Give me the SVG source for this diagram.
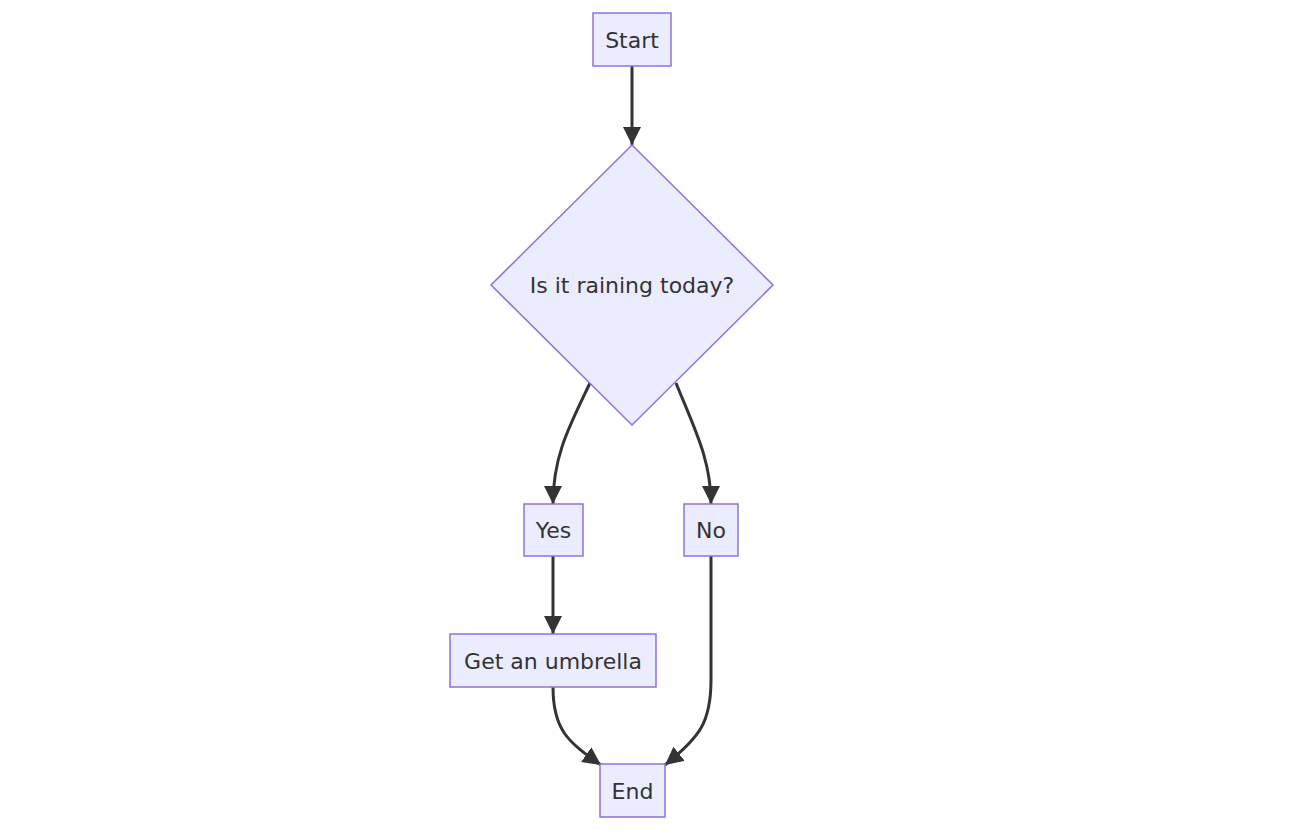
<svg xmlns="http://www.w3.org/2000/svg" width="1291" height="839" viewBox="0 0 1291 839">
<style>
.node rect, .node polygon { fill: #ECECFF; stroke: #9370DB; stroke-width: 1.5; }
.node text { font-family: "DejaVu Sans", "Liberation Sans", sans-serif; font-size: 22px; fill: #333333; text-anchor: middle; dominant-baseline: central; }
.edge { fill: none; stroke: #333333; stroke-width: 3; marker-end: url(#arrow); }
</style>
<defs>
<marker id="arrow" viewBox="0 0 10 10" refX="10" refY="5" markerWidth="18" markerHeight="18" markerUnits="userSpaceOnUse" orient="auto">
<path d="M0,0 L10,5 L0,10 z" fill="#333333"/>
</marker>
</defs>
<rect width="1291" height="839" fill="#ffffff"/>
<g id="connectors">
<path class="edge" d="M632,66 L632,145"/>
<path class="edge" d="M590,383 C570,425 553,455 553,504"/>
<path class="edge" d="M676,383 C695,430 711,460 711,504"/>
<path class="edge" d="M553,556 L553,634"/>
<path class="edge" d="M553,687 C553,730 568,742 601,765"/>
<path class="edge" d="M711,556 L711,680 C711,722 700,737 665,765"/>
</g>
<g id="start" class="node">
<rect x="593" y="13" width="78" height="53"/>
<text x="632" y="40">Start</text>
</g>
<g id="decision" class="node">
<polygon points="632,145 773,285 632,425 491,285"/>
<text x="632" y="285">Is it raining today?</text>
</g>
<g id="yes" class="node">
<rect x="524" y="504" width="59" height="52"/>
<text x="553.5" y="530">Yes</text>
</g>
<g id="no" class="node">
<rect x="684" y="504" width="54" height="52"/>
<text x="711" y="530">No</text>
</g>
<g id="umbrella" class="node">
<rect x="450" y="634" width="206" height="53"/>
<text x="553" y="661">Get an umbrella</text>
</g>
<g id="end" class="node">
<rect x="600" y="764" width="65" height="53"/>
<text x="632.5" y="791">End</text>
</g>
</svg>
